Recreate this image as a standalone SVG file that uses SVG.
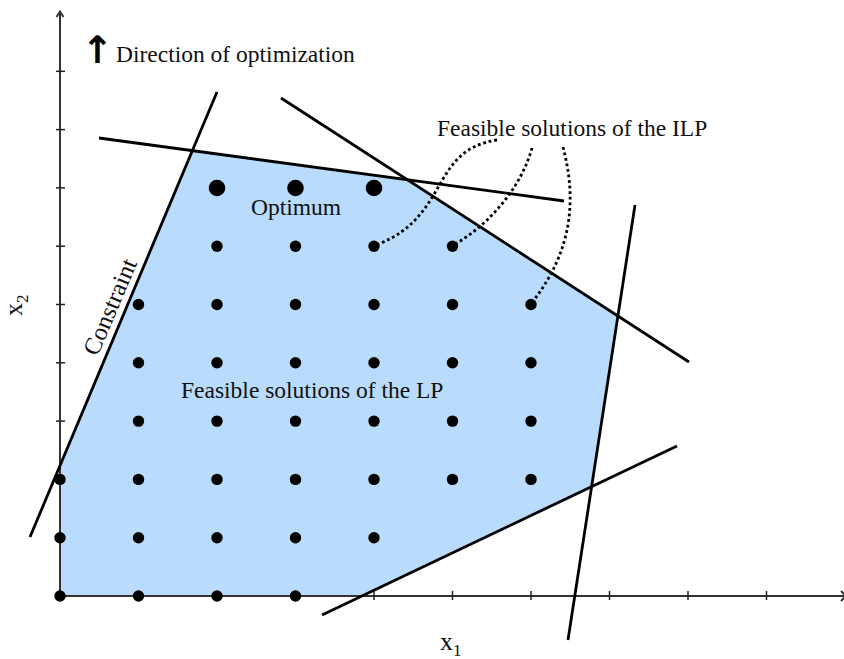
<svg xmlns="http://www.w3.org/2000/svg" width="844" height="659" viewBox="0 0 844 659">
<style>
.lbl{font-family:"Liberation Serif","Times New Roman",serif;font-size:23.5px;fill:#111}
.ax{stroke:#333;stroke-width:2;fill:none}
.tick{stroke:#222;stroke-width:1.5}
.con{stroke:#000;stroke-width:2.8;fill:none;stroke-linecap:butt}
.dot{fill:#000}
.lead{stroke:#000;stroke-width:2.8;fill:none;stroke-dasharray:2.8 2.8}
</style>
<rect width="844" height="659" fill="#fff"/>
<g id="region">
<polygon points="60,596 60,465.6 192.4,150.6 407.4,179.8 617.9,316 591.6,486.7 361.9,596" fill="#b9dbfc"/>
</g>
<g id="axes">
<line class="ax" x1="60" y1="596" x2="846" y2="596"/>
<polyline class="ax" points="841,591 846,596 841,601" stroke-width="1.5"/>
<line class="ax" x1="60" y1="596" x2="60" y2="12" stroke="#111" stroke-width="1.6"/>
<polyline class="ax" points="56.5,17 60,11.5 63.5,17" stroke="#111" stroke-width="1.4"/>
<g class="tick">
<line x1="56" y1="537.7" x2="65" y2="537.7"/>
<line x1="56" y1="479.4" x2="65" y2="479.4"/>
<line x1="56" y1="421.1" x2="65" y2="421.1"/>
<line x1="56" y1="362.8" x2="65" y2="362.8"/>
<line x1="56" y1="304.5" x2="65" y2="304.5"/>
<line x1="56" y1="246.2" x2="65" y2="246.2"/>
<line x1="56" y1="187.9" x2="65" y2="187.9"/>
<line x1="56" y1="129.6" x2="65" y2="129.6"/>
<line x1="56" y1="71.3" x2="65" y2="71.3"/>
<line x1="138.5" y1="591" x2="138.5" y2="600"/>
<line x1="217" y1="591" x2="217" y2="600"/>
<line x1="295.5" y1="591" x2="295.5" y2="600"/>
<line x1="374" y1="591" x2="374" y2="600"/>
<line x1="452.5" y1="591" x2="452.5" y2="600"/>
<line x1="531" y1="591" x2="531" y2="600"/>
<line x1="609.5" y1="591" x2="609.5" y2="600"/>
<line x1="688" y1="591" x2="688" y2="600"/>
<line x1="766.5" y1="591" x2="766.5" y2="600"/>
</g>
</g>
<g id="constraints">
<line class="con" x1="30" y1="537" x2="217" y2="92"/>
<line class="con" x1="99" y1="138" x2="564" y2="201"/>
<line class="con" x1="281" y1="98" x2="689" y2="362"/>
<line class="con" x1="635" y1="205" x2="568" y2="640"/>
<line class="con" x1="322" y1="615" x2="677" y2="446"/>
</g>
<g id="lattice-points" class="dot">
<circle cx="60" cy="596" r="5.7"/><circle cx="138.5" cy="596" r="5.7"/><circle cx="217" cy="596" r="5.7"/><circle cx="295.5" cy="596" r="5.7"/>
<circle cx="60" cy="537.7" r="5.7"/><circle cx="138.5" cy="537.7" r="5.7"/><circle cx="217" cy="537.7" r="5.7"/><circle cx="295.5" cy="537.7" r="5.7"/><circle cx="374" cy="537.7" r="5.7"/>
<circle cx="60" cy="479.4" r="5.7"/><circle cx="138.5" cy="479.4" r="5.7"/><circle cx="217" cy="479.4" r="5.7"/><circle cx="295.5" cy="479.4" r="5.7"/><circle cx="374" cy="479.4" r="5.7"/><circle cx="452.5" cy="479.4" r="5.7"/><circle cx="531" cy="479.4" r="5.7"/>
<circle cx="138.5" cy="421.1" r="5.7"/><circle cx="217" cy="421.1" r="5.7"/><circle cx="295.5" cy="421.1" r="5.7"/><circle cx="374" cy="421.1" r="5.7"/><circle cx="452.5" cy="421.1" r="5.7"/><circle cx="531" cy="421.1" r="5.7"/>
<circle cx="138.5" cy="362.8" r="5.7"/><circle cx="217" cy="362.8" r="5.7"/><circle cx="295.5" cy="362.8" r="5.7"/><circle cx="374" cy="362.8" r="5.7"/><circle cx="452.5" cy="362.8" r="5.7"/><circle cx="531" cy="362.8" r="5.7"/>
<circle cx="138.5" cy="304.5" r="5.7"/><circle cx="217" cy="304.5" r="5.7"/><circle cx="295.5" cy="304.5" r="5.7"/><circle cx="374" cy="304.5" r="5.7"/><circle cx="452.5" cy="304.5" r="5.7"/><circle cx="531" cy="304.5" r="5.7"/>
<circle cx="217" cy="246.2" r="5.7"/><circle cx="295.5" cy="246.2" r="5.7"/><circle cx="374" cy="246.2" r="5.7"/><circle cx="452.5" cy="246.2" r="5.7"/>
</g>
<g id="optimum-points" class="dot">
<circle cx="217" cy="188" r="8.3"/><circle cx="295.5" cy="188" r="8.3"/><circle cx="374" cy="188" r="8.3"/>
</g>
<g id="connectors">
<path class="lead" d="M497,140 C430,150 450,215 379,244"/>
<path class="lead" d="M532,148 C522,185 492,222 457,243"/>
<path class="lead" d="M563,147 C577,200 572,250 534,300"/>
</g>
<g id="labels">
<g id="label-direction">
<text x="97.5" y="63" text-anchor="middle" style="font-family:'DejaVu Sans',sans-serif;font-size:38px;font-weight:bold;fill:#000">↑</text>
<text class="lbl" x="116" y="62">Direction of optimization</text>
</g>
<text id="label-ilp" class="lbl" x="437" y="136">Feasible solutions of the ILP</text>
<text id="label-optimum" class="lbl" x="251" y="215">Optimum</text>
<text id="label-lp" class="lbl" x="181" y="398">Feasible solutions of the LP</text>
<text id="label-constraint" class="lbl" transform="translate(97.5,357) rotate(-67)" style="font-size:24.5px">Constraint</text>
<text id="label-x1" class="lbl" x="440" y="650" style="font-size:26px">x<tspan dy="6" style="font-size:17px">1</tspan></text>
<text id="label-x2" class="lbl" transform="translate(22,316) rotate(-90)" style="font-size:26px">x<tspan dy="6" style="font-size:17px">2</tspan></text>
</g>
</svg>
